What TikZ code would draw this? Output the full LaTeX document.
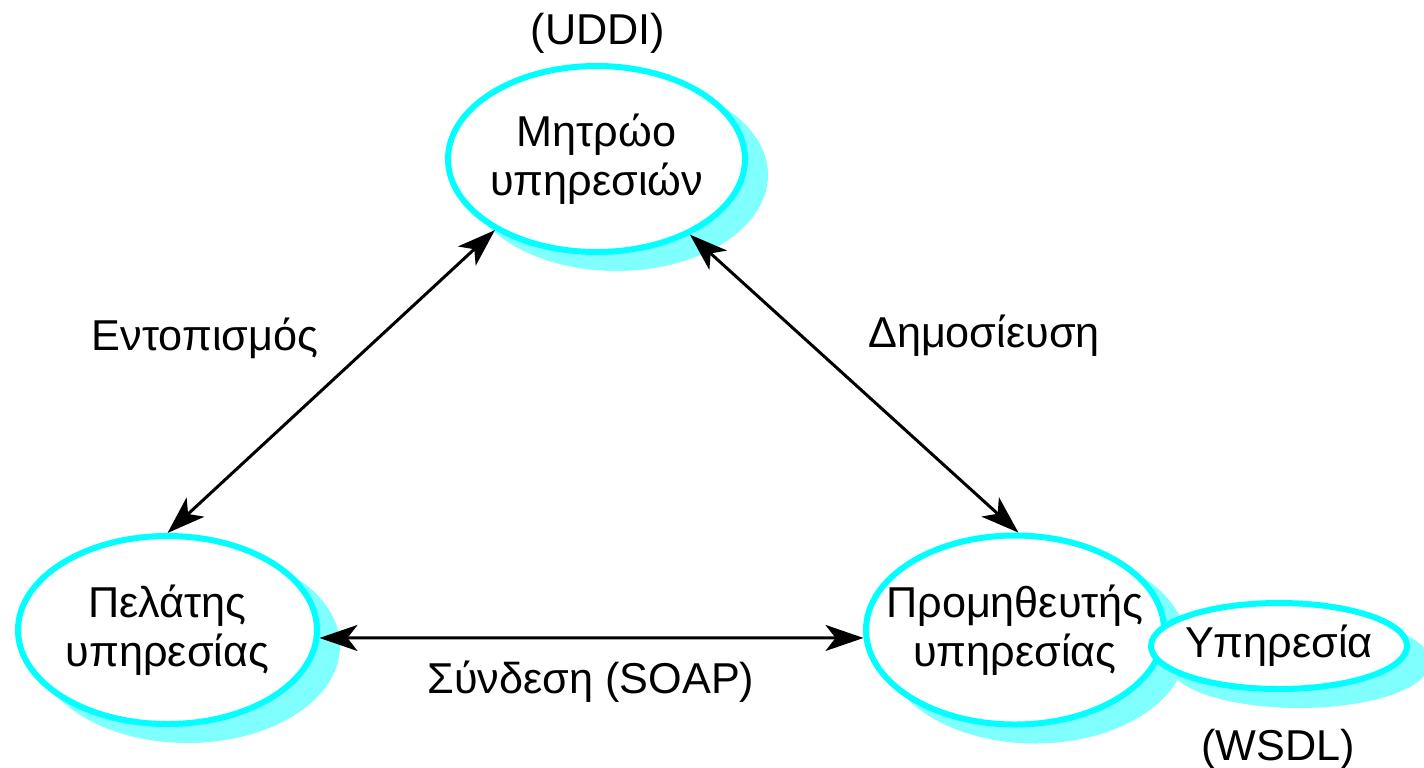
\documentclass[tikz,border=0pt]{standalone}
\usepackage{fontspec}
\setmainfont{Liberation Sans}
\usetikzlibrary{arrows.meta,shapes.geometric,shadows}
\definecolor{ringc}{HTML}{00FFFF}
\definecolor{shadc}{HTML}{80FFFF}
\begin{document}
\begin{tikzpicture}[x=0.5pt,y=-0.5pt,
  txt/.style={font=\fontsize{21.6}{24.5}\selectfont, align=center},
  ring/.style={ellipse, draw=ringc, line width=3pt, fill=white, inner sep=-20pt, txt,
    drop shadow={shadow xshift=10pt, shadow yshift=-8pt, fill=shadc, draw=shadc, line width=3pt, opacity=1}},
  lbl/.style={txt, anchor=base, inner sep=0pt},
  conn/.style={line width=1.5pt, {Stealth[length=19pt,width=13pt,inset=5pt]}-{Stealth[length=19pt,width=13pt,inset=5pt]}}
]
\useasboundingbox (0,0) rectangle (1424,767);
\node[ring, minimum width=148.5pt, minimum height=93pt] (reg) at (596.5,159) {Μητρώο\\υπηρεσιών};
\node[ring, minimum width=149.5pt, minimum height=94pt] (pel) at (167.5,630) {Πελάτης\\υπηρεσίας};
\node[ring, minimum width=149pt, minimum height=94.5pt] (prov) at (1015,630) {Προμηθευτής\\υπηρεσίας};
\node[ring, minimum width=128pt, minimum height=43pt] (serv) at (1279,646) {Υπηρεσία};

\node[lbl] (uddi) at (598,44) {(UDDI)};
\node[lbl] (ent) at (205,350) {Εντοπισμός};
\node[lbl] (dim) at (984,347) {Δημοσίευση};
\node[lbl] (syn) at (591,693) {Σύνδεση (SOAP)};
\node[lbl] (wsdl) at (1278,760) {(WSDL)};

\draw[conn] (pel.north) -- (reg.215.8);
\draw[conn] (reg.321.5) -- (prov.88);
\draw[conn] (pel.-3) -- (prov.183);
\end{tikzpicture}
\end{document}
